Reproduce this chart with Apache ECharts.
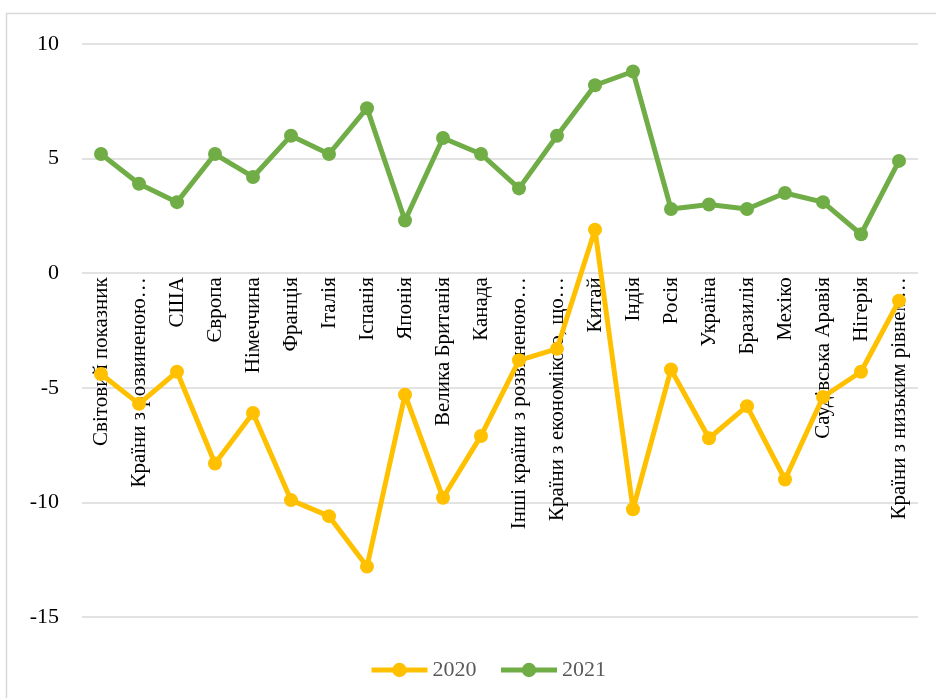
<!DOCTYPE html>
<html><head><meta charset="utf-8">
<script src="https://cdn.jsdelivr.net/npm/echarts@6/dist/echarts.min.js"></script>
<style>html,body{margin:0;padding:0;background:#fff;}#c{width:936px;height:698px;}</style>
</head><body><div id="c"></div>
<script>
const categories = ["Світовий показник","Країни з розвиненою…","США","Європа","Німеччина","Франція","Італія","Іспанія","Японія","Велика Британія","Канада","Інші країни з розвиненою…","Країни з економікою, що…","Китай","Індія","Росія","Україна","Бразилія","Мехіко","Саудівська Аравія","Нігерія","Країни з низьким рівнем…"];
const values2020 = [-4.4,-5.7,-4.3,-8.3,-6.1,-9.9,-10.6,-12.8,-5.3,-9.8,-7.1,-3.8,-3.3,1.9,-10.3,-4.2,-7.2,-5.8,-9.0,-5.4,-4.3,-1.2];
const values2021 = [5.2,3.9,3.1,5.2,4.2,6.0,5.2,7.2,2.3,5.9,5.2,3.7,6.0,8.2,8.8,2.8,3.0,2.8,3.5,3.1,1.7,4.9];
const seriesNames = ["2020","2021"];
const yTicks = {min:-15,max:10,interval:5};

const chart = echarts.init(document.getElementById('c'));
const font = "'Liberation Serif','Times New Roman',serif";
const gridTop = 44, gridBottom = 81, H = 698;
const plotH = H - gridTop - gridBottom;
const zeroOffset = -plotH * (0 - yTicks.min) / (yTicks.max - yTicks.min);
chart.setOption({
  animation:false,
  textStyle:{fontFamily:font},
  graphic:[{type:'rect',shape:{x:6.5,y:13.5,width:1000,height:1000},style:{fill:'none',stroke:'#d9d9d9',lineWidth:1.5},silent:true}],
  grid:{left:82,right:18,top:gridTop,bottom:gridBottom,containLabel:false,outerBoundsMode:'none'},
  legend:{top:654,left:364,itemWidth:56,itemHeight:18,itemGap:22,
    lineStyle:{width:5},
    textStyle:{fontFamily:font,fontSize:22,color:'#595959'},data:seriesNames},
  xAxis:{type:'category',data:categories,boundaryGap:true,offset:zeroOffset,
    axisLine:{show:false,onZero:false},axisTick:{show:false},
    axisLabel:{rotate:90,interval:0,fontSize:21,color:'#000',fontFamily:font,margin:4}},
  yAxis:{type:'value',min:yTicks.min,max:yTicks.max,interval:yTicks.interval,
    axisLine:{show:false},axisTick:{show:false},
    splitLine:{lineStyle:{color:'#d9d9d9',width:1.5}},
    axisLabel:{fontSize:22,color:'#000',fontFamily:font,margin:23}},
  series:[
    {name:seriesNames[0],type:'line',data:values2020,symbol:'circle',symbolSize:14,
     lineStyle:{color:'#FFC000',width:5},itemStyle:{color:'#FFC000'}},
    {name:seriesNames[1],type:'line',data:values2021,symbol:'circle',symbolSize:14,
     lineStyle:{color:'#70AD47',width:5},itemStyle:{color:'#70AD47'}}
  ]
});
</script></body></html>
